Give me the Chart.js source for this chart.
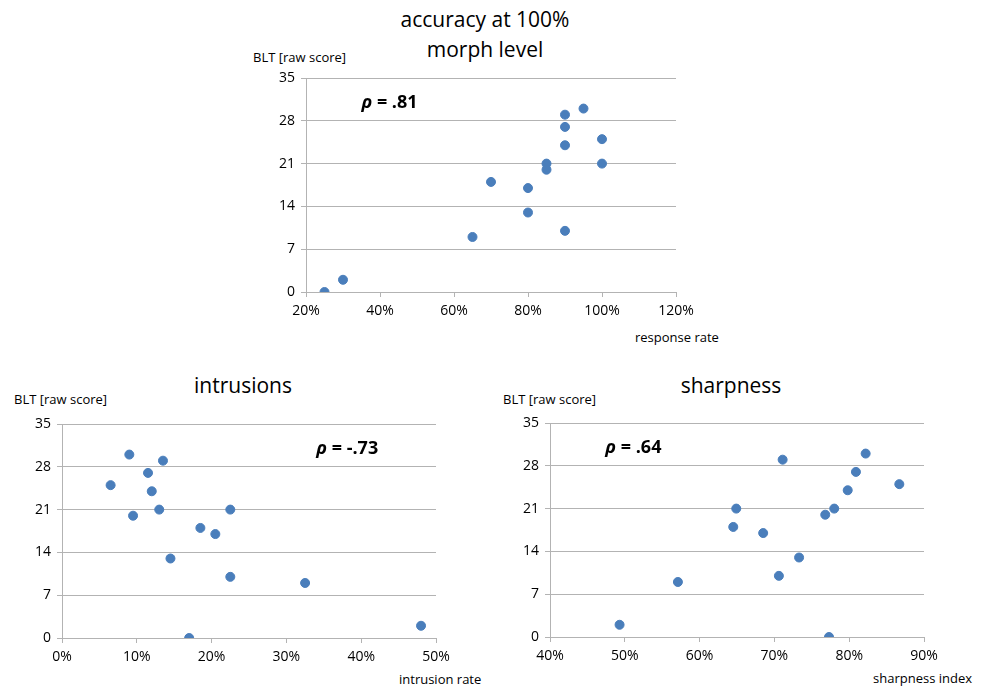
<!DOCTYPE html>
<html>
<head>
<meta charset="utf-8">
<script src="https://cdn.jsdelivr.net/npm/chart.js@4/dist/chart.umd.min.js"></script>
<style>
  body { margin: 0; background: #fff; width: 987px; height: 687px; position: relative; overflow: hidden; font-family: "Open Sans", sans-serif; color: #000; }
  canvas { position: absolute; }
  .t { position: absolute; white-space: nowrap; }
  .title { font-size: 21px; text-align: center; line-height: 30px; }
  .lbl { font-size: 13px; }
</style>
</head>
<body>
<div class="t title" style="left:385px; top:4px; width:200px;">accuracy at 100%<br>morph level</div>
<div class="t lbl" style="left:253px; top:48px;">BLT [raw score]</div>
<div class="t lbl" style="left:635px; top:328px;">response rate</div>
<canvas id="c1" width="460" height="272" style="left:250px; top:60px;"></canvas>

<div class="t title" style="left:143px; top:370px; width:200px;">intrusions</div>
<div class="t lbl" style="left:14px; top:390px;">BLT [raw score]</div>
<div class="t lbl" style="left:399px; top:670px;">intrusion rate</div>
<canvas id="c2" width="460" height="272" style="left:6px; top:406px;"></canvas>

<div class="t title" style="left:631px; top:370px; width:200px;">sharpness</div>
<div class="t lbl" style="left:503px; top:390px;">BLT [raw score]</div>
<div class="t lbl" style="left:873px; top:669px;">sharpness index</div>
<canvas id="c3" width="460" height="272" style="left:494px; top:405px;"></canvas>

<script>
// BLT raw scores and the three predictors (percent)
const yTicks = [0, 7, 14, 21, 28, 35];

const responseRate = [25, 30, 65, 70, 80, 80, 85, 85, 90, 90, 90, 90, 95, 100, 100];
const bltResponse  = [0, 2, 9, 18, 17, 13, 21, 20, 29, 27, 24, 10, 30, 25, 21];

const intrusionRate  = [6.5, 9, 9.5, 11.5, 12, 13, 13.5, 14.5, 17, 18.5, 20.5, 22.5, 22.5, 32.5, 48];
const bltIntrusion   = [25, 30, 20, 27, 24, 21, 29, 13, 0, 18, 17, 21, 10, 9, 2];

const sharpnessIndex = [49.3, 57.1, 64.5, 64.9, 68.5, 70.6, 71.1, 73.3, 76.8, 77.3, 78.0, 79.8, 80.9, 82.2, 86.7];
const bltSharpness   = [2, 9, 18, 21, 17, 10, 29, 13, 20, 0, 21, 24, 27, 30, 25];

const rhoLabels = [".81", "-.73", ".64"];
const rhoPos = [[35, 31], [34, 31], [47.4, 31]];

const blue = "#4a7ebb";
const gridGray = "#b3b3b3";

const rhoPlugin = {
  id: "rho",
  afterDatasetsDraw(chart, args, opts) {
    const { ctx, scales } = chart;
    const x = scales.x.getPixelForValue(opts.at[0]);
    const y = scales.y.getPixelForValue(opts.at[1]);
    ctx.save();
    ctx.fillStyle = "#000";
    ctx.textBaseline = "middle";
    ctx.font = 'italic bold 18px "Open Sans"';
    ctx.fillText("ρ", x, y);
    const w = ctx.measureText("ρ").width;
    ctx.font = 'bold 18px "Open Sans"';
    ctx.fillText(" = " + opts.text, x + w, y);
    ctx.restore();
  },
};

function scatter(id, xs, ys, xMin, xMax, xStep, rhoIdx, padRight) {
  const pts = xs.map((v, i) => ({ x: v, y: ys[i] }));
  return new Chart(document.getElementById(id), {
    type: "scatter",
    data: {
      datasets: [{
        data: pts,
        backgroundColor: blue,
        borderColor: blue,
        pointRadius: 4.5,
        pointHoverRadius: 4.5,
      }],
    },
    options: {
      responsive: false,
      animation: false,
      layout: { padding: { top: 18, right: padRight, left: 0, bottom: 0 } },
      plugins: {
        legend: { display: false },
        tooltip: { enabled: false },
        rho: { text: rhoLabels[rhoIdx], at: rhoPos[rhoIdx] },
      },
      scales: {
        x: {
          type: "linear",
          min: xMin,
          max: xMax,
          afterFit(scale) { scale.height = 40; },
          grid: { drawOnChartArea: false, drawTicks: true, tickLength: 5, color: gridGray },
          border: { color: gridGray, width: 1 },
          ticks: {
            stepSize: xStep,
            padding: 6,
            color: "#000",
            font: { family: "Open Sans", size: 14 },
            callback: (v) => v + "%",
          },
        },
        y: {
          min: 0,
          max: 35,
          afterFit(scale) { scale.width = 56; },
          afterBuildTicks(scale) { scale.ticks = yTicks.map((v) => ({ value: v })); },
          grid: { color: gridGray, tickLength: 5 },
          border: { color: gridGray, width: 1 },
          ticks: {
            padding: 6,
            color: "#000",
            font: { family: "Open Sans", size: 14 },
          },
        },
      },
    },
    plugins: [rhoPlugin],
  });
}

scatter("c1", responseRate, bltResponse, 20, 120, 20, 0, 34);
scatter("c2", intrusionRate, bltIntrusion, 0, 50, 10, 1, 30);
scatter("c3", sharpnessIndex, bltSharpness, 40, 90, 10, 2, 30);
</script>
</body>
</html>
